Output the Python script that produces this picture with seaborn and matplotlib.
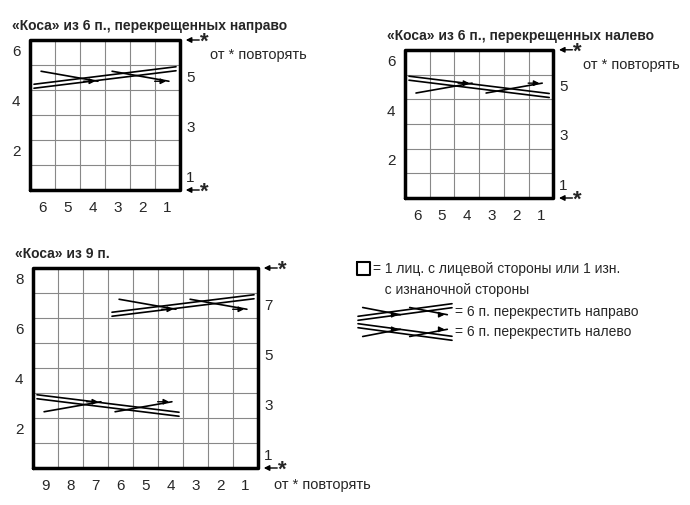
import matplotlib
matplotlib.use("Agg")
import matplotlib.pyplot as plt
import seaborn as sns
import numpy as np

sns.set_style("white")
plt.rcParams["font.family"] = "Liberation Sans"

# chart data
titles = ["«Коса» из 6 п., перекрещенных направо",
          "«Коса» из 6 п., перекрещенных налево",
          "«Коса» из 9 п."]
n_cols = [6, 6, 9]
n_rows = [6, 6, 8]
origins = [(30, 190), (405, 198), (33, 468)]   # bottom-left of grid (px)
cell = [25, 24.7, 25]
left_labels = [[2, 4, 6], [2, 4, 6], [2, 4, 6, 8]]
right_labels = [[1, 3, 5], [1, 3, 5], [1, 3, 5, 7]]
# cables: (chart, row, first col from right, last col from right, direction)
cables = [(0, 5, 1, 6, "R"), (1, 5, 1, 6, "L"), (2, 7, 1, 6, "R"), (2, 3, 4, 9, "L")]
legend_texts = ["= 1 лиц. с лицевой стороны или 1 изн.\n   с изнаночной стороны",
                "= 6 п. перекрестить направо",
                "= 6 п. перекрестить налево"]

fig = plt.figure(figsize=(6.9, 5.05), dpi=100)
ax = fig.add_axes([0, 0, 1, 1])
ax.set_xlim(0, 690); ax.set_ylim(505, 0); ax.axis("off")

def cable(x0, x1, yc, h, d):
    w = x1 - x0
    s = 1 if d == "R" else -1
    for off in (-2, 2):
        ax.plot([x0, x1], [yc + s*h*0.35 + off, yc - s*h*0.35 + off], color="k", lw=1.2)
    for a, b in ((0.05, 0.45), (0.55, 0.95)):
        ax.plot([x0 + a*w, x0 + b*w], [yc - s*h*0.25, yc + s*h*0.15], color="k", lw=1.2)
        ax.annotate("", xy=(x0 + b*w, yc + s*h*0.15), xytext=(x0 + (b-0.12)*w, yc + s*h*0.15),
                    arrowprops=dict(arrowstyle="-|>", color="k", lw=1, mutation_scale=8))

for i in range(3):
    x0, yb = origins[i]; c = cell[i]; nc, nr = n_cols[i], n_rows[i]
    x1, yt = x0 + nc*c, yb - nr*c
    for k in range(1, nc):
        ax.plot([x0 + k*c]*2, [yb, yt], color="#888", lw=0.8)
    for k in range(1, nr):
        ax.plot([x0, x1], [yb - k*c]*2, color="#888", lw=0.8)
    ax.plot([x0, x1, x1, x0, x0], [yb, yb, yt, yt, yb], color="k", lw=2.5)
    ax.text(x0 - 18, yt - 14, titles[i], fontsize=10, fontweight="bold", va="center")
    for r in left_labels[i]:
        ax.text(x0 - 18, yb - (r - 0.5)*c, str(r), fontsize=11, va="center")
    for r in right_labels[i]:
        ax.text(x1 + 6, yb - (r - 0.5)*c, str(r), fontsize=11, va="center")
    for k in range(nc):
        ax.text(x0 + (k + 0.5)*c, yb + 18, str(nc - k), fontsize=11, ha="center", va="center")
    for yy in (yt, yb):
        ax.annotate("", xy=(x1 + 3, yy), xytext=(x1 + 22, yy),
                    arrowprops=dict(arrowstyle="-|>", color="k", lw=1, mutation_scale=8))
        ax.text(x1 + 20, yy + 2, "*", fontsize=16, fontweight="bold", va="center")
    if i < 2:
        ax.text(x1 + 30, yt + 15, "от * повторять", fontsize=10.5, va="center")
    else:
        ax.text(x1 + 16, yb + 17, "от * повторять", fontsize=10.5, va="center")

for ch, row, a, b, d in cables:
    x0, yb = origins[ch]; c = cell[ch]; nc = n_cols[ch]
    xa = x0 + (nc - b)*c + 4; xb = x0 + (nc - a + 1)*c - 4
    cable(xa, xb, yb - (row - 0.5)*c, c, d)

# legend
ax.plot([357, 370, 370, 357, 357], [262, 262, 275, 275, 262], color="k", lw=1.5)
ax.text(373, 262, legend_texts[0], fontsize=10, va="top", linespacing=1.6)
cable(358, 452, 312, 18, "R"); ax.text(455, 312, legend_texts[1], fontsize=10, va="center")
cable(358, 452, 332, 18, "L"); ax.text(455, 332, legend_texts[2], fontsize=10, va="center")

fig.savefig("out.png", dpi=100)
